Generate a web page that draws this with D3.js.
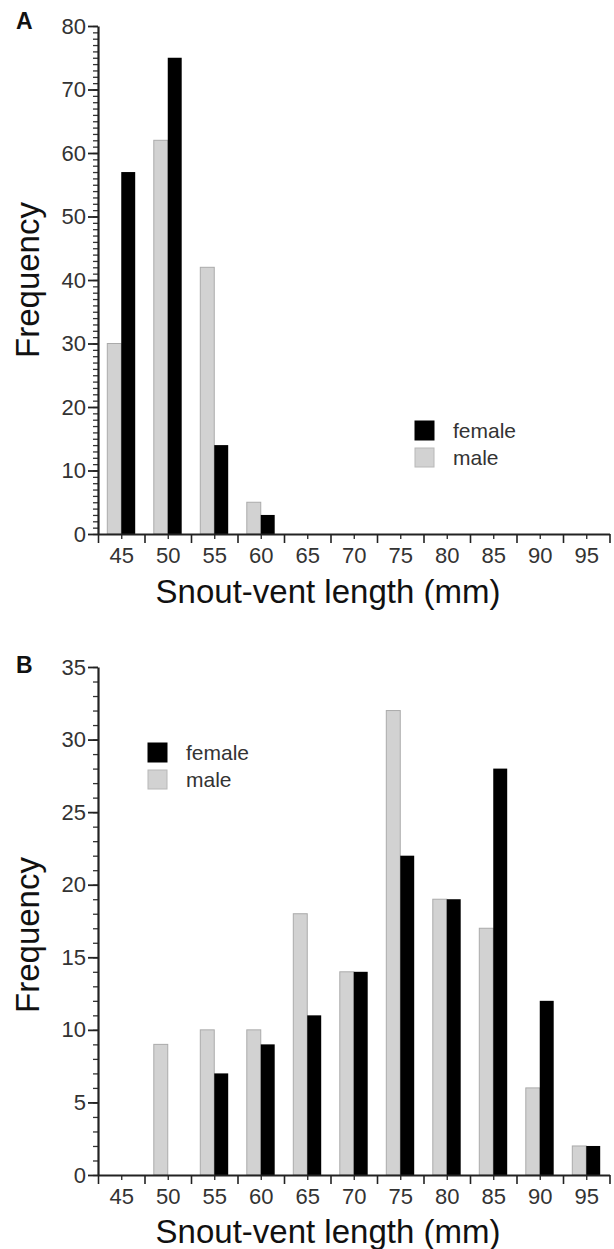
<!DOCTYPE html>
<html>
<head>
<meta charset="utf-8">
<script src="https://cdn.jsdelivr.net/npm/d3@7"></script>
<style>
  html, body { margin: 0; padding: 0; background: #fff; }
  svg { display: block; font-family: "Liberation Sans", Arial, sans-serif; }
</style>
</head>
<body>
<div id="chart"></div>
<script>
// bin centres (mm)
const bins = [45, 50, 55, 60, 65, 70, 75, 80, 85, 90, 95];

// panel A counts
const femaleA = [57, 75, 14, 3, 0, 0, 0, 0, 0, 0, 0];
const maleA   = [30, 62, 42, 5, 0, 0, 0, 0, 0, 0, 0];
const yTicksA = [0, 10, 20, 30, 40, 50, 60, 70, 80];

// panel B counts
const femaleB = [0, 0, 7, 9, 11, 14, 22, 19, 28, 12, 2];
const maleB   = [0, 9, 10, 10, 18, 14, 32, 19, 17, 6, 2];
const yTicksB = [0, 5, 10, 15, 20, 25, 30, 35];

const series = ['female', 'male'];

const W = 614, H = 1249;
const svg = d3.select('#chart').append('svg')
  .attr('width', W).attr('height', H)
  .attr('viewBox', `0 0 ${W} ${H}`);

function drawPanel(cfg) {
  const g = svg.append('g');
  const left = 98, right = 609.5;

  const x = d3.scaleLinear().domain([42.5, 97.5]).range([left, right]);
  const y = d3.scaleLinear().domain([0, cfg.yMax]).range([cfg.bottom, cfg.top]);
  const barW = (x(5) - x(0)) * 0.3;

  // bars: male on the left of the bin centre, female on the right
  const rows = bins.map((b, i) => ({ bin: b, male: cfg.male[i], female: cfg.female[i] }));
  g.append('g').selectAll('rect.male')
    .data(rows.filter(d => d.male > 0))
    .join('rect')
    .attr('x', d => x(d.bin) - barW)
    .attr('y', d => y(d.male))
    .attr('width', barW)
    .attr('height', d => y(0) - y(d.male))
    .attr('fill', '#d2d2d2')
    .attr('stroke', '#aaaaaa')
    .attr('stroke-width', 1);
  g.append('g').selectAll('rect.female')
    .data(rows.filter(d => d.female > 0))
    .join('rect')
    .attr('x', d => x(d.bin))
    .attr('y', d => y(d.female))
    .attr('width', barW)
    .attr('height', d => y(0) - y(d.female))
    .attr('fill', '#000');

  // y axis: minor ticks every unit, then labelled majors
  g.append('g')
    .attr('transform', `translate(${left},0)`)
    .call(d3.axisLeft(y).tickValues(d3.range(0, cfg.yMax + 1)).tickSize(5).tickSizeOuter(0).tickFormat(''))
    .call(a => a.select('.domain').remove())
    .call(a => a.selectAll('line').attr('stroke', '#333').attr('stroke-width', 1.3));
  const ya = g.append('g')
    .attr('transform', `translate(${left},0)`)
    .call(d3.axisLeft(y).tickValues(cfg.yTicks).tickSize(10).tickSizeOuter(0).tickPadding(2));
  ya.select('.domain').attr('stroke', '#222').attr('stroke-width', 2.2);
  ya.selectAll('line').attr('stroke', '#222').attr('stroke-width', 1.8);
  ya.selectAll('text').attr('font-size', 22).attr('fill', '#333')
    .attr('font-family', '"Liberation Sans", Arial, sans-serif');

  // x axis: long ticks at bin edges, short ticks + labels at bin centres
  g.append('g')
    .attr('transform', `translate(0,${cfg.bottom})`)
    .call(d3.axisBottom(x).tickValues(d3.range(42.5, 98, 5)).tickSize(9).tickSizeOuter(0).tickFormat(''))
    .call(a => a.select('.domain').attr('stroke', '#222').attr('stroke-width', 2.2))
    .call(a => a.selectAll('line').attr('stroke', '#222').attr('stroke-width', 1.6));
  const xa = g.append('g')
    .attr('transform', `translate(0,${cfg.bottom})`)
    .call(d3.axisBottom(x).tickValues(bins).tickSize(5).tickSizeOuter(0).tickPadding(8));
  xa.select('.domain').remove();
  xa.selectAll('line').attr('stroke', '#222').attr('stroke-width', 1.3);
  xa.selectAll('text').attr('font-size', 22).attr('fill', '#333')
    .attr('font-family', '"Liberation Sans", Arial, sans-serif');

  // axis titles
  g.append('text')
    .attr('x', 328).attr('y', cfg.xTitleY)
    .attr('text-anchor', 'middle')
    .attr('font-size', 33).attr('fill', '#111')
    .text('Snout-vent length (mm)');
  g.append('text')
    .attr('transform', `translate(39,${cfg.yTitleC}) rotate(-90)`)
    .attr('text-anchor', 'middle')
    .attr('font-size', 33).attr('fill', '#111')
    .text('Frequency');

  // panel letter
  g.append('text')
    .attr('x', 16).attr('y', cfg.letterY)
    .attr('font-size', 23).attr('font-weight', 'bold').attr('fill', '#111')
    .text(cfg.letter);

  // legend
  const lg = g.append('g').attr('transform', `translate(${cfg.legX},${cfg.legY})`);
  const item = lg.selectAll('g').data(series).join('g')
    .attr('transform', (d, i) => `translate(0,${i * 27})`);
  item.append('rect')
    .attr('width', 19).attr('height', 19)
    .attr('fill', d => d === 'female' ? '#000' : '#d2d2d2')
    .attr('stroke', d => d === 'female' ? '#000' : '#b8b8b8');
  item.append('text')
    .attr('x', 38).attr('y', 17)
    .attr('font-size', 21).attr('fill', '#333')
    .text(d => d);
}

drawPanel({
  letter: 'A', letterY: 29,
  male: maleA, female: femaleA, yMax: 80, yTicks: yTicksA,
  top: 26, bottom: 534,
  xTitleY: 603, yTitleC: 280,
  legX: 415, legY: 421
});

drawPanel({
  letter: 'B', letterY: 673,
  male: maleB, female: femaleB, yMax: 35, yTicks: yTicksB,
  top: 667, bottom: 1175,
  xTitleY: 1243, yTitleC: 935,
  legX: 148, legY: 743
});
</script>
</body>
</html>
